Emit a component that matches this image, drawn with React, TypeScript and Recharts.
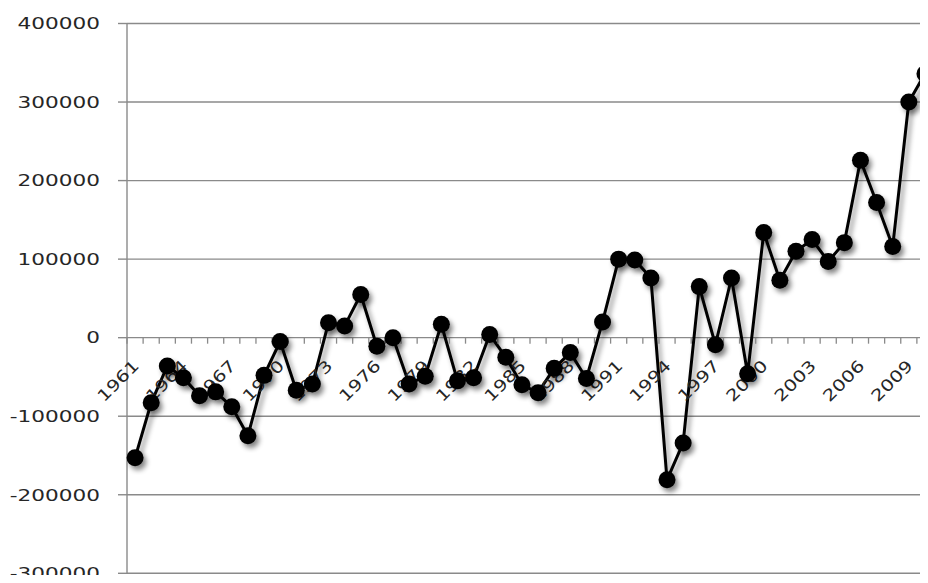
import React from 'react';
import { ComposedChart, Line, Scatter, XAxis, YAxis, CartesianGrid } from 'recharts';

const years: number[] = [
  1961, 1962, 1963, 1964, 1965, 1966, 1967, 1968, 1969, 1970,
  1971, 1972, 1973, 1974, 1975, 1976, 1977, 1978, 1979, 1980,
  1981, 1982, 1983, 1984, 1985, 1986, 1987, 1988, 1989, 1990,
  1991, 1992, 1993, 1994, 1995, 1996, 1997, 1998, 1999, 2000,
  2001, 2002, 2003, 2004, 2005, 2006, 2007, 2008, 2009, 2010,
];

const values: number[] = [
  -153000, -83000, -36000, -51000, -74000, -69000, -88000, -125000, -48000, -5000,
  -67000, -59000, 19000, 15000, 55000, -11000, 0, -59000, -49000, 17000,
  -55000, -51000, 4000, -25000, -60000, -70000, -39000, -19000, -52000, 20000,
  100000, 99000, 76000, -181000, -134000, 65000, -9000, 76000, -46000, 134000,
  73000, 110000, 125000, 97000, 121000, 226000, 172000, 116000, 300000, 336000,
];

const xTickLabels: string[] = [
  '1961', '1964', '1967', '1970', '1973', '1976', '1979', '1982', '1985',
  '1988', '1991', '1994', '1997', '2000', '2003', '2006', '2009',
];

const yTicks: number[] = [-300000, -200000, -100000, 0, 100000, 200000, 300000, 400000];
const yTickLabels: string[] = ['-300000', '-200000', '-100000', '0', '100000', '200000', '300000', '400000'];

const data = years.map((year, i) => ({ year, value: values[i] }));
const boundaries = [...years.map((y) => ({ year: y - 0.5, v: 0 })), { year: years[years.length - 1] + 0.5, v: 0 }];
const labelData = xTickLabels.map((l) => ({ year: Number(l), v: 0, label: l }));

const GRAY = '#8a8a8a';
const TEXT = '#262626';
const FONT = 'DejaVu Sans';

const YTick = (props: any) => {
  const { x, y, payload } = props;
  const idx = yTicks.indexOf(payload.value);
  const label = idx >= 0 ? yTickLabels[idx] : String(payload.value);
  return (
    <g transform={`translate(${x},${y})`}>
      <text transform="scale(1.35,1)" x={0} y={0} textAnchor="end" dy="0.36em" fontFamily={FONT} fontSize={16} fill={TEXT}>
        {label}
      </text>
    </g>
  );
};

const TickMark = (props: any) => {
  const { cx, cy } = props;
  if (cx == null || cy == null) return null;
  return <line x1={cx} x2={cx} y1={cy} y2={cy + 6} stroke={GRAY} strokeWidth={1.3} />;
};

const XLabel = (props: any) => {
  const { cx, cy, payload } = props;
  if (cx == null || cy == null) return null;
  return (
    <g transform={`translate(${cx + 5},${cy + 29}) rotate(-45)`}>
      <text transform="scale(1.25,1)" x={0} y={0} textAnchor="end" fontFamily={FONT} fontSize={16} fill={TEXT}>
        {payload.label}
      </text>
    </g>
  );
};

const Dot = (props: any) => {
  const { cx, cy, index } = props;
  if (cx == null || cy == null) return null;
  return <circle key={`d-${index}`} cx={cx} cy={cy} r={8.5} fill="#000" filter="url(#dshadow)" />;
};

export default function App() {
  return (
    <div style={{ width: 920, height: 567, overflow: 'hidden' }}>
      <ComposedChart width={930} height={575} data={data} margin={{ top: 15.5, right: 5, bottom: 9.7, left: 0 }}>
        <defs>
          <filter id="dshadow" x="-50%" y="-50%" width="200%" height="200%">
            <feDropShadow dx="3" dy="4" stdDeviation="2.5" floodColor="#000" floodOpacity="0.45" />
          </filter>
        </defs>
        <CartesianGrid vertical={false} stroke={GRAY} strokeWidth={1.4} />
        <XAxis type="number" dataKey="year" domain={[1960.5, 2010.5]} hide />
        <YAxis
          type="number"
          domain={[-300000, 400000]}
          ticks={yTicks}
          width={119}
          tickSize={9}
          tickMargin={18}
          axisLine={{ stroke: GRAY, strokeWidth: 1.4 }}
          tickLine={{ stroke: GRAY, strokeWidth: 1.4 }}
          tick={<YTick />}
          interval={0}
        />
        <Scatter data={boundaries} dataKey="v" shape={<TickMark />} isAnimationActive={false} />
        <Scatter data={labelData} dataKey="v" shape={<XLabel />} isAnimationActive={false} />
        <Line dataKey="value" stroke="#000" strokeWidth={3} dot={<Dot />} activeDot={false} filter="url(#dshadow)" isAnimationActive={false} />
      </ComposedChart>
    </div>
  );
}
